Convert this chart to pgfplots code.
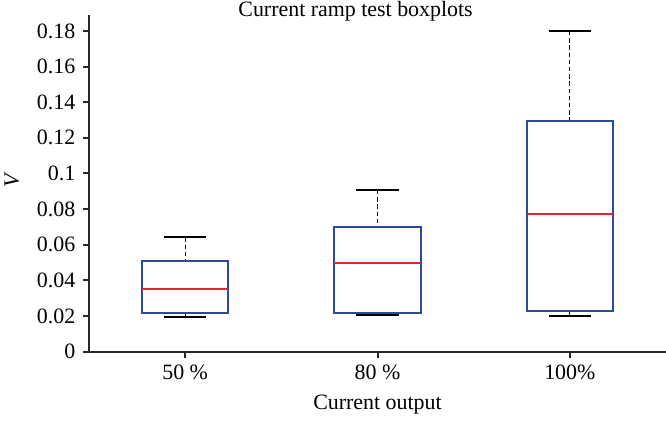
\documentclass[border=0pt]{standalone}
\usepackage{fontspec}
\setmainfont{Liberation Serif}
\usepackage{pgfplots}
\pgfplotsset{compat=1.18}
\usepgfplotslibrary{statistics}
\definecolor{boxblue}{RGB}{46,74,154}
\definecolor{medred}{RGB}{220,38,50}
\definecolor{axgray}{RGB}{40,40,40}
\begin{document}
\fontsize{11}{13}\selectfont
\begin{tikzpicture}
\begin{axis}[
  scale only axis,
  width=288.5bp, height=168.25bp,
  xmin=0.5, xmax=3.5,
  ymin=0, ymax=0.189,
  axis x line*=bottom, axis y line*=left,
  axis line style={axgray, line width=1bp},
  tick style={axgray, line width=1bp},
  tick align=outside,
  major tick length=3bp,
  xtick={1,2,3},
  xticklabels={50 \%, 80 \%, 100\%},
  ytick={0,0.02,0.04,0.06,0.08,0.1,0.12,0.14,0.16,0.18},
  yticklabel style={/pgf/number format/fixed, /pgf/number format/precision=2},
  /pgf/number format/assume math mode=true,
  ticklabel style={font=\fontsize{11}{13}\selectfont},
  title={Current ramp test boxplots},
  title style={at={(axis description cs:0.462,1)}, anchor=base, yshift=-6.75pt, font=\fontsize{11}{13}\selectfont},
  xlabel={Current output},
  xlabel style={at={(axis description cs:0.5,-0.159)}, anchor=center, font=\fontsize{11}{13}\selectfont},
  ylabel={\textit{V}},
  ylabel style={at={(axis description cs:-0.1335,0.51)}, anchor=center, rotate=0, font=\fontsize{11}{13}\selectfont},
  boxplot/draw direction=y,
  boxplot/box extend=0.45,
  boxplot/whisker extend=0.22,
  boxplot/every box/.style={draw=boxblue, line width=1bp, fill=white},
  boxplot/every median/.style={draw=medred, line width=1bp},
  boxplot/draw/lower whisker/.code={%
    \draw[black, line width=0.6bp, dash pattern=on 2.2bp off 1.4bp]
      (boxplot cs:\pgfplotsboxplotvalue{lower whisker}) --
      (boxplot cs:\pgfplotsboxplotvalue{lower quartile});
    \draw[black, line width=1.1bp]
      (boxplot whisker cs:\pgfplotsboxplotvalue{lower whisker},0) --
      (boxplot whisker cs:\pgfplotsboxplotvalue{lower whisker},1);
  },
  boxplot/draw/upper whisker/.code={%
    \draw[black, line width=0.6bp, dash pattern=on 2.2bp off 1.4bp]
      (boxplot cs:\pgfplotsboxplotvalue{upper whisker}) --
      (boxplot cs:\pgfplotsboxplotvalue{upper quartile});
    \draw[black, line width=1.1bp]
      (boxplot whisker cs:\pgfplotsboxplotvalue{upper whisker},0) --
      (boxplot whisker cs:\pgfplotsboxplotvalue{upper whisker},1);
  },
]
\addplot+[mark=none, solid, boxplot prepared={draw position=1,
  lower whisker=0.0195, lower quartile=0.0216, median=0.0351,
  upper quartile=0.0508, upper whisker=0.0641}] coordinates {};
\addplot+[mark=none, solid, boxplot prepared={draw position=2,
  lower whisker=0.0207, lower quartile=0.0218, median=0.0497,
  upper quartile=0.0701, upper whisker=0.0907}] coordinates {};
\addplot+[mark=none, solid, boxplot prepared={draw position=3,
  lower whisker=0.0198, lower quartile=0.0226, median=0.0772,
  upper quartile=0.1295, upper whisker=0.1800}] coordinates {};
\end{axis}
\pgfresetboundingbox
\path[use as bounding box] ([shift={(-44.5bp,-43.25bp)}]current axis.south west) rectangle ([shift={(0bp,7.5bp)}]current axis.north east);
\end{tikzpicture}
\end{document}
